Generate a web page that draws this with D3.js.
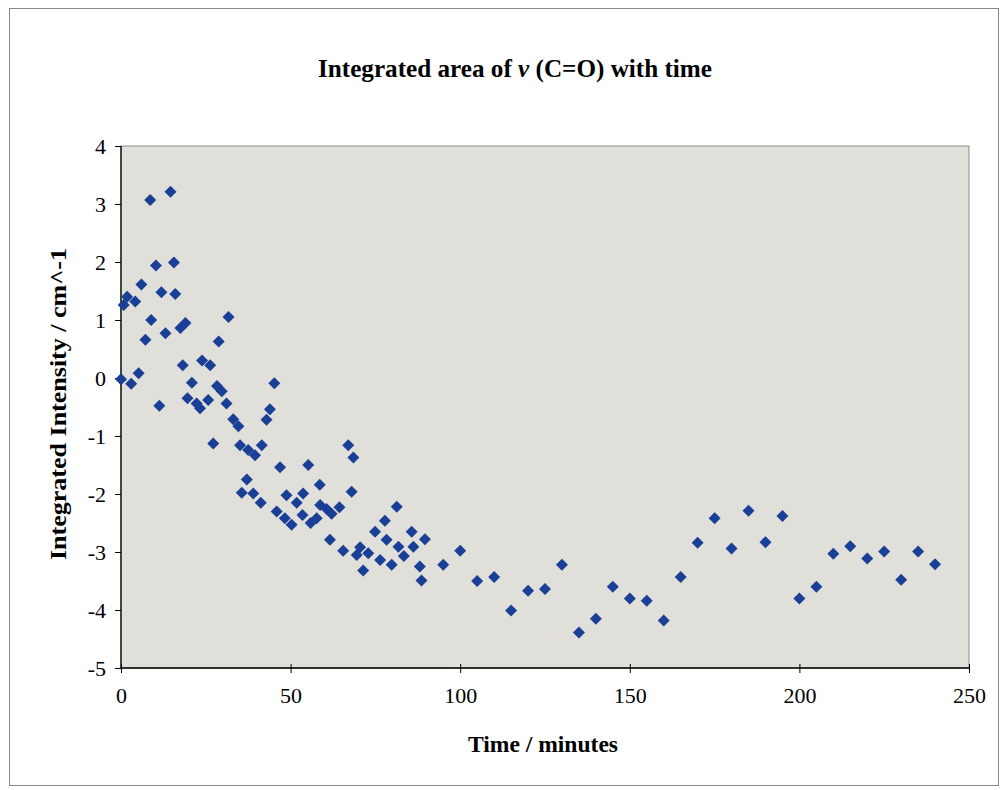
<!DOCTYPE html>
<html><head><meta charset="utf-8">
<script src="https://cdn.jsdelivr.net/npm/d3@7"></script>
<style>body{margin:0;background:#fff}svg{display:block}text{font-family:"Liberation Serif","Times New Roman",serif}</style>
</head><body>
<svg id="c" width="1002" height="790"></svg>
<script>
const timeMin = [0,0.8,1.8,3.0,4.2,5.2,6.0,7.2,8.6,8.9,10.3,11.3,11.9,13.1,14.6,15.6,16.0,17.5,18.2,19.0,19.6,20.9,22.3,23.3,23.9,25.7,26.3,27.2,28.3,28.8,29.7,31.1,31.7,33.1,34.6,35.1,35.6,37.1,37.5,39.0,39.5,41.2,41.5,42.9,43.9,45.2,45.9,46.9,48.3,48.8,50.3,51.8,53.5,53.7,55.2,55.9,57.7,58.6,58.7,60.6,61.6,62.1,64.4,65.5,67.0,68.0,68.5,69.5,70.5,71.4,72.9,74.9,76.4,77.8,78.3,79.8,81.3,81.8,83.4,85.7,86.2,88.1,88.6,89.6,
95,100,105,110,115,120,125,130,135,140,145,150,155,160,165,170,175,180,185,190,195,200,205,210,215,220,225,230,235,240];
const intensity = [-0.02,1.26,1.40,-0.10,1.32,0.08,1.61,0.66,3.07,1.00,1.94,-0.48,1.48,0.77,3.21,1.99,1.45,0.86,0.22,0.95,-0.35,-0.08,-0.44,-0.52,0.30,-0.38,0.22,-1.13,-0.14,0.63,-0.23,-0.44,1.05,-0.71,-0.83,-1.16,-1.98,-1.75,-1.24,-1.99,-1.33,-2.15,-1.16,-0.72,-0.54,-0.09,-2.30,-1.54,-2.42,-2.02,-2.53,-2.15,-2.36,-1.99,-1.50,-2.50,-2.42,-1.84,-2.19,-2.26,-2.79,-2.34,-2.23,-2.98,-1.16,-1.96,-1.37,-3.05,-2.92,-3.32,-3.02,-2.65,-3.14,-2.46,-2.79,-3.22,-2.22,-2.91,-3.07,-2.65,-2.91,-3.25,-3.49,-2.78,
-3.22,-2.98,-3.50,-3.43,-4.01,-3.67,-3.64,-3.22,-4.39,-4.15,-3.60,-3.80,-3.84,-4.18,-3.43,-2.84,-2.42,-2.94,-2.29,-2.83,-2.38,-3.80,-3.60,-3.03,-2.90,-3.11,-2.99,-3.48,-2.99,-3.21];
const xTicks = [0,50,100,150,200,250];
const yTicks = [4,3,2,1,0,-1,-2,-3,-4,-5];
const titleText = "Integrated area of ";
const xLabel = "Time / minutes";
const yLabel = "Integrated Intensity / cm^-1";

const svg = d3.select("#c");
const L = 121, R = 969, T = 146, B = 668;
const x = d3.scaleLinear().domain([0,250]).range([L,R]);
const y = d3.scaleLinear().domain([-5,4]).range([B,T]);

// outer border
svg.append("rect").attr("x",9.5).attr("y",8.5).attr("width",989).attr("height",777)
  .attr("fill","#fff").attr("stroke","#8a8a8a").attr("stroke-width",1);

// plot area
svg.append("rect").attr("x",L).attr("y",T).attr("width",R-L).attr("height",B-T)
  .attr("fill","#e0dfd9").attr("stroke","#8c8c8c").attr("stroke-width",1);

// title
const t = svg.append("text").attr("x",515).attr("y",77).attr("text-anchor","middle")
  .attr("font-size",25).attr("font-weight","bold").attr("fill","#000")
  .attr("textLength",394).attr("lengthAdjust","spacingAndGlyphs");
t.append("tspan").text(titleText);
t.append("tspan").attr("font-style","italic").text("v");
t.append("tspan").text(" (C=O) with time");

// axes
const xa = svg.append("g").attr("transform",`translate(0,${B})`)
  .call(d3.axisBottom(x).tickValues(xTicks).tickSize(5).tickPadding(14).tickFormat(d3.format("d")));
xa.selectAll(".tick line").attr("y1",-4).attr("y2",5);
const ya = svg.append("g").attr("transform",`translate(${L},0)`)
  .call(d3.axisLeft(y).tickValues(yTicks).tickSize(6).tickPadding(9).tickFormat(d=>d<0?"-"+Math.abs(d):d));
[xa,ya].forEach(g=>{
  g.select(".domain").attr("stroke","#000").attr("stroke-width",1.3);
  g.selectAll(".tick line").attr("stroke","#000");
  g.selectAll(".tick text").attr("font-size",22).attr("fill","#000")
   .style("font-family","'Liberation Serif',serif");
});
ya.select(".domain").attr("d",`M0,${T}V${B}`);
xa.select(".domain").attr("d",`M${L},0H${R}`);

// axis titles
svg.append("text").attr("x",543).attr("y",752).attr("text-anchor","middle")
  .attr("font-size",23).attr("font-weight","bold").attr("textLength",150)
  .attr("lengthAdjust","spacingAndGlyphs").text(xLabel);
svg.append("text").attr("transform","translate(66,404) rotate(-90)").attr("text-anchor","middle")
  .attr("font-size",24).attr("font-weight","bold").attr("textLength",312)
  .attr("lengthAdjust","spacingAndGlyphs").text(yLabel);

// points
svg.append("g").selectAll("path").data(timeMin.map((t,i)=>[t,intensity[i]])).join("path")
  .attr("transform",d=>`translate(${x(d[0])},${y(d[1])}) rotate(45)`)
  .attr("d",d3.symbol().type(d3.symbolSquare).size(72)())
  .attr("fill","#1a3f97");
</script>
</body></html>
